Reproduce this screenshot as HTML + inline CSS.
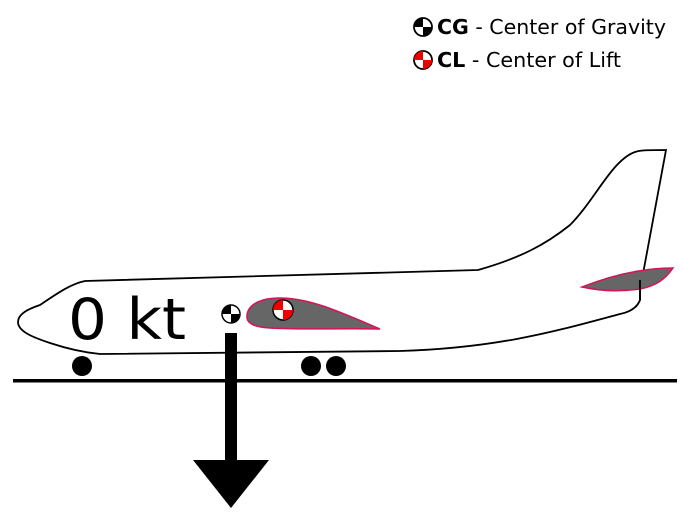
<!DOCTYPE html>
<html><head><style>body{margin:0;background:#fff}svg{display:block}</style></head><body>
<svg width="683" height="512" viewBox="0 0 683 512" xmlns="http://www.w3.org/2000/svg" font-family="DejaVu Sans, sans-serif">
<rect width="683" height="512" fill="#fff"/>
<path d="M85,281 L478,270 C520,258 545,245 570,225 C595,200 612,160 635,152 C640,150 650,150 666,150 L640,290 L640,300 C637,308 630,312 620,314 C560,330 500,348 400,351 L100,354 C80,352 65,348 50,343 C35,338 18,332 18,322 C18,314 28,309 40,305 C55,295 70,284 85,281 Z" fill="#fff" stroke="#000" stroke-width="1.8"/>
<path d="M582,287 C610,276 640,268 673,268 C665,280 655,286 640,289 C620,292 600,291 582,287 Z" fill="#666" stroke="#d4145a" stroke-width="1.5"/>
<path d="M640,280 L640,300" stroke="#000" stroke-width="1.8"/>
<path d="M247,318 C246,305 260,298 280,298 C310,298 340,312 380,329 C340,328 300,330 270,328 C255,327 248,324 247,318 Z" fill="#666" stroke="#d4145a" stroke-width="1.5"/>
<rect x="13" y="379" width="664" height="3.5" fill="#000"/>
<circle cx="82" cy="366" r="10"/>
<circle cx="311" cy="366" r="10"/>
<circle cx="336" cy="366" r="10"/>
<text x="68" y="339" font-size="57" fill="#000" textLength="118" lengthAdjust="spacingAndGlyphs">0 kt</text>
<g transform="translate(231,314)">
<circle r="9" fill="#fff" stroke="#000" stroke-width="1.5"/>
<path d="M0,0 L0,-9 A9,9 0 0 0 -9,0 Z M0,0 L0,9 A9,9 0 0 0 9,0 Z" fill="#000"/>
</g>
<g transform="translate(283,310)">
<circle r="10" fill="#fff" stroke="#000" stroke-width="1.5"/>
<path d="M0,0 L0,-10 A10,10 0 0 0 -10,0 Z M0,0 L0,10 A10,10 0 0 0 10,0 Z" fill="#e00"/>
</g>
<rect x="225" y="333" width="12" height="128" fill="#000"/>
<path d="M193,460 L269,460 L231,508 Z" fill="#000"/>
<g transform="translate(423,27)">
<circle r="9" fill="#fff" stroke="#000" stroke-width="1.8"/>
<path d="M0,0 L0,-9 A9,9 0 0 0 -9,0 Z M0,0 L0,9 A9,9 0 0 0 9,0 Z" fill="#000"/>
</g>
<text x="437" y="34" font-size="20" fill="#000" textLength="229" lengthAdjust="spacingAndGlyphs"><tspan font-weight="bold">CG</tspan> - Center of Gravity</text>
<g transform="translate(423,60)">
<circle r="9" fill="#fff" stroke="#000" stroke-width="1.8"/>
<path d="M0,0 L0,-9 A9,9 0 0 0 -9,0 Z M0,0 L0,9 A9,9 0 0 0 9,0 Z" fill="#e00"/>
</g>
<text x="437" y="67" font-size="20" fill="#000" textLength="184" lengthAdjust="spacingAndGlyphs"><tspan font-weight="bold">CL</tspan> - Center of Lift</text>
</svg>
</body></html>
